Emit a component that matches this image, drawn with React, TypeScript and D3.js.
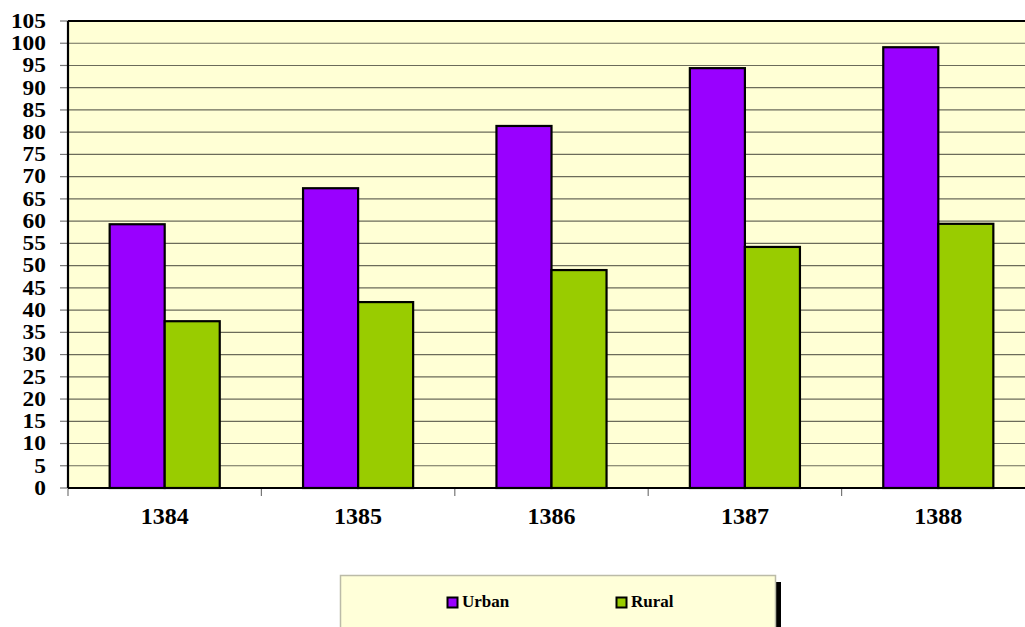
import React from "react";
import * as d3 from "d3";

const categories = ["1384", "1385", "1386", "1387", "1388"];
const seriesNames = ["Urban", "Rural"];
const urbanValues = [59.3, 67.4, 81.4, 94.4, 99.1];
const ruralValues = [37.5, 41.8, 49.0, 54.2, 59.4];
const yTicks = d3.range(0, 106, 5);
const colors = ["#9900FF", "#99CC00"];

const W = 1025;
const H = 627;
const plot = { left: 68, top: 21, right: 1035, bottom: 488 };
const font = "Liberation Serif";

export default function App() {
  const x = d3.scaleBand<string>().domain(categories).range([plot.left, plot.right]).paddingInner(0).paddingOuter(0);
  const y = d3.scaleLinear().domain([0, 105]).range([plot.bottom, plot.top]);
  const series = [urbanValues, ruralValues];
  const barW = x.bandwidth() * 0.2846;
  const groupOffset = (x.bandwidth() - 2 * barW) / 2;

  return (
    <div style={{ position: "absolute", left: 0, top: 0, width: W, height: H }}>
      <svg width={W} height={H} style={{ display: "block", background: "#fff" }}>
        <rect x={plot.left} y={plot.top} width={plot.right - plot.left} height={plot.bottom - plot.top} fill="#FFFFD5" />
        {yTicks.map((t) => (
          <g key={t}>
            {t > 0 && t < 105 && (
              <line x1={plot.left} x2={plot.right} y1={y(t)} y2={y(t)} stroke="#6b6b5a" strokeWidth={1.2} />
            )}
            <line x1={60} x2={plot.left} y1={y(t)} y2={y(t)} stroke="#777" strokeWidth={1.2} />
            <text
              transform={`translate(46,${y(t) + 6.8}) scale(1.17,1)`}
              textAnchor="end"
              fontFamily={font}
              fontWeight="bold"
              fontSize={20}
              fill="#000"
            >
              {t}
            </text>
          </g>
        ))}
        {categories.map((c, i) =>
          series.map((vals, s) => (
            <rect
              key={c + s}
              x={(x(c) as number) + groupOffset + s * barW}
              y={y(vals[i])}
              width={barW}
              height={y(0) - y(vals[i])}
              fill={colors[s]}
              stroke="#000"
              strokeWidth={2.2}
            />
          ))
        )}
        <line x1={plot.left} x2={plot.right} y1={plot.top} y2={plot.top} stroke="#000" strokeWidth={2.2} />
        <line x1={plot.left} x2={plot.left} y1={plot.top} y2={plot.bottom} stroke="#000" strokeWidth={2.2} />
        <line x1={plot.left} x2={plot.right} y1={plot.bottom} y2={plot.bottom} stroke="#000" strokeWidth={2.2} />
        {categories.map((c) => (
          <line key={"t" + c} x1={x(c) as number} x2={x(c) as number} y1={plot.bottom + 1} y2={plot.bottom + 8} stroke="#777" strokeWidth={1.2} />
        ))}
        {categories.map((c) => (
          <text
            key={"l" + c}
            x={(x(c) as number) + x.bandwidth() / 2}
            y={524}
            textAnchor="middle"
            fontFamily={font}
            fontWeight="bold"
            fontSize={24}
            fill="#000"
          >
            {c}
          </text>
        ))}
        <rect x={776} y={582} width={5} height={H - 582} fill="#000" />
        <rect x={340.5} y={575.5} width={435} height={H} fill="#FFFFD9" stroke="#bbbba8" strokeWidth={1.5} />
        {seriesNames.map((n, s) => {
          const lx = s === 0 ? 447.5 : 616.5;
          return (
            <g key={n}>
              <rect x={lx} y={597.5} width={10} height={10} fill={colors[s]} stroke="#000" strokeWidth={2} />
              <text x={lx + 14.5} y={607} fontFamily={font} fontWeight="bold" fontSize={17} fill="#000">
                {n}
              </text>
            </g>
          );
        })}
      </svg>
    </div>
  );
}
